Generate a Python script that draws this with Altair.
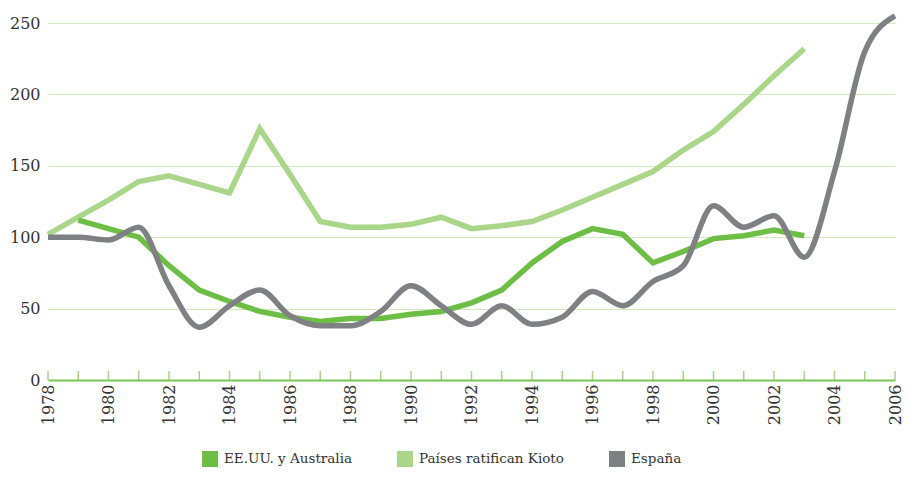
import altair as alt
import pandas as pd

years = list(range(1978, 2007))

eeuu_years = list(range(1979, 2004))
eeuu = [112, 106, 100, 80, 63, 55, 48, 44, 41, 43, 43, 46, 48, 54, 63, 82, 97, 106, 102, 82, 90, 99, 101, 105, 101]

kioto_years = list(range(1978, 2004))
kioto = [102, 114, 126, 139, 143, 137, 131, 176, 144, 111, 107, 107, 109, 114, 106, 108, 111, 119, 128, 137, 146, 161, 174, 193, 213, 232]

espana_years = list(range(1978, 2007))
espana = [100, 100, 98, 107, 66, 37, 52, 63, 45, 38, 38, 48, 66, 52, 39, 52, 39, 44, 62, 52, 69, 80, 122, 107, 115, 86, 146, 230, 255]

series_names = ["EE.UU. y Australia", "Países ratifican Kioto", "España"]
series_colors = ["#6dbe45", "#aad68a", "#7f8083"]

label_years = list(range(1978, 2007, 2))
y_ticks = [0, 50, 100, 150, 200, 250]

rows = []
for y, v in zip(eeuu_years, eeuu):
    rows.append({"year": y, "value": v, "serie": series_names[0]})
for y, v in zip(kioto_years, kioto):
    rows.append({"year": y, "value": v, "serie": series_names[1]})
for y, v in zip(espana_years, espana):
    rows.append({"year": y, "value": v, "serie": series_names[2]})
df = pd.DataFrame(rows)
ticks_df = pd.DataFrame({"year": years})
legend_df = pd.DataFrame({"serie": series_names, "year": [1978] * 3, "value": [100] * 3})

FONT = "DejaVu Serif"
GREEN_AXIS = "#7cc655"

xscale = alt.Scale(domain=[1978, 2006], nice=False, zero=False)
yscale = alt.Scale(domain=[0, 250], nice=False)
cscale = alt.Scale(domain=series_names, range=series_colors)

legend = alt.Legend(
    title=None,
    orient="none",
    legendX=154,
    legendY=428,
    direction="horizontal",
    symbolType="square",
    symbolSize=256,
    symbolStrokeWidth=0,
    symbolOpacity=1,
    labelFont=FONT,
    labelFontSize=13.5,
    labelColor="#333333",
    labelLimit=400,
    columnPadding=45,
    labelOffset=6,
)

x_enc = alt.X(
    "year:Q",
    scale=xscale,
    axis=alt.Axis(
        values=label_years,
        format="d",
        labelAngle=-90,
        labelFont=FONT,
        labelFontSize=16,
        labelColor="#333333",
        labelPadding=4,
        ticks=False,
        grid=False,
        domainColor=GREEN_AXIS,
        domainWidth=2,
        title=None,
        labelFlush=False,
    ),
)
y_enc = alt.Y(
    "value:Q",
    scale=yscale,
    axis=alt.Axis(
        values=y_ticks,
        labelFont=FONT,
        labelFontSize=16,
        labelColor="#333333",
        labelPadding=8,
        ticks=False,
        domain=False,
        grid=True,
        gridColor="#d3eabf",
        gridWidth=1,
        title=None,
    ),
)

def line_layer(name, interp):
    return (
        alt.Chart(df)
        .transform_filter(alt.datum.serie == name)
        .mark_line(strokeWidth=5.5, interpolate=interp, clip=False)
        .encode(x=x_enc, y=y_enc, color=alt.Color("serie:N", scale=cscale, legend=None))
    )

legend_layer = (
    alt.Chart(legend_df)
    .mark_point(shape="square", filled=True, size=0, opacity=1)
    .encode(
        x=alt.X("year:Q", scale=xscale),
        y=alt.Y("value:Q", scale=yscale),
        color=alt.Color("serie:N", scale=cscale, sort=series_names, legend=legend),
    )
)

tick_layer = (
    alt.Chart(ticks_df)
    .mark_tick(orient="vertical", size=9, thickness=1.5, color=GREEN_AXIS, yOffset=-4.5)
    .encode(x=alt.X("year:Q", scale=xscale), y=alt.datum(0))
)

chart = (
    alt.layer(
        legend_layer,
        tick_layer,
        line_layer(series_names[1], "linear"),
        line_layer(series_names[0], "linear"),
        line_layer(series_names[2], "monotone"),
    )
    .properties(
        width=847,
        height=357,
        padding={"left": 40, "top": 15, "right": 8, "bottom": 88},
        autosize=alt.AutoSizeParams(type="none"),
    )
    .configure_view(stroke=None)
)

chart.save("out.html", embed_options={"renderer": "svg", "actions": False})
